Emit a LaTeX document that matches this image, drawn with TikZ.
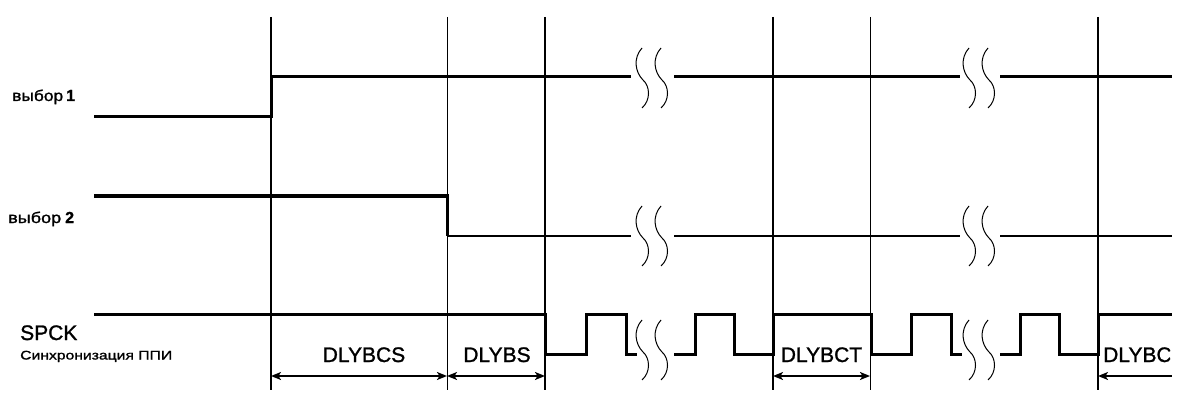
\documentclass[tikz,border=0pt]{standalone}
\usepackage{fontspec}
\setmainfont{Liberation Sans}[FakeBold=1.2]
\usepackage{graphicx}
\usetikzlibrary{arrows.meta}
\begin{document}
\begin{tikzpicture}[x=1pt,y=-1pt,
  sig/.style={line width=3pt,line join=miter},
  siglow/.style={line width=1.8pt},
  vthick/.style={line width=2.8pt},
  vmed/.style={line width=1.8pt},
  vthin/.style={line width=0.9pt},
  brkline/.style={line width=1pt},
  dimarrow/.style={line width=1.6pt,{Stealth[length=10pt,width=8pt,inset=2.5pt]}-{Stealth[length=10pt,width=8pt,inset=2.5pt]}},
  dimleft/.style={line width=1.6pt,{Stealth[length=10pt,width=8pt,inset=2.5pt]}-},
  lbl/.style={inner sep=0pt,font=\fontsize{21}{21}\selectfont},
  sublbl/.style={inner sep=0pt,font=\fontsize{15.5}{15.5}\selectfont},
  digit/.style={inner sep=0pt,font=\bfseries\fontsize{16}{16}\selectfont},
  brkpair/.pic={
    \draw[brkline] (-10.5,-30) .. controls (-19.5,-20) and (-17.5,-6) .. (-9.5,2) .. controls (-2.5,8) and (-1.5,22) .. (-10.5,30);
    \draw[brkline] (8.5,-30) .. controls (-0.5,-20) and (1.5,-6) .. (9.5,2) .. controls (16.5,8) and (17.5,22) .. (8.5,30);
  }]
\useasboundingbox (0,0) rectangle (1200,409);

% vertical reference lines
\foreach \n/\x in {v1/271,v2/447,v3/545,v4/773,v5/870,v6/1098}{
  \coordinate (\n t) at (\x,17);
  \coordinate (\n b) at (\x,390);
  \coordinate (\n a) at (\x,376);
}
\draw[vmed] (v1t) -- (v1b);
\draw[vthin] (v2t) -- (v2b);
\draw[vthick] (v3t) -- (v3b);
\draw[vthick] (v4t) -- (v4b);
\draw[vthin] (v5t) -- (v5b);
\draw[vthick] (v6t) -- (v6b);
\coordinate (endA) at (1172,376);

% signal: выбор 1
\draw[sig] (94,117) -- (271,117) -- (271,77) -- (631,77);
\draw[sig] (674,77) -- (960,77);
\draw[sig] (1000,77) -- (1172,77);
\pic (b1a) at (652.5,78) {brkpair};
\pic (b1b) at (979.5,78) {brkpair};

% signal: выбор 2
\draw[sig] (94,196) -- (447,196) -- (447,236);
\draw[siglow] (447,236) -- (631,236);
\draw[siglow] (674,236) -- (960,236);
\draw[siglow] (1000,236) -- (1172,236);
\pic (b2a) at (652.5,236) {brkpair};
\pic (b2b) at (979.5,236) {brkpair};

% signal: SPCK
\draw[sig] (94,314) -- (545,314) -- (545,354) -- (586,354) -- (586,314) -- (626,314) -- (626,354) -- (637,354);
\draw[sig] (674,354) -- (695,354) -- (695,314) -- (734,314) -- (734,354) -- (773,354) -- (773,314) -- (871,314) -- (871,354) -- (911,354) -- (911,314) -- (951,314) -- (951,354) -- (962,354);
\draw[sig] (1000,354) -- (1020,354) -- (1020,314) -- (1059,314) -- (1059,354) -- (1098,354) -- (1098,314) -- (1172,314);
\pic (b3a) at (652.5,350) {brkpair};
\pic (b3b) at (979.5,350) {brkpair};

% dimension arrows
\draw[dimarrow] (v1a) -- (v2a);
\draw[dimarrow] (v2a) -- (v3a);
\draw[dimarrow] (v4a) -- (v5a);
\draw[dimleft] (v6a) -- (endA);

% dimension labels
\node[lbl,anchor=base] (dlybcs) at (364,362) {DLYBCS};
\node[lbl,anchor=base] (dlybs) at (497,362) {DLYBS};
\node[lbl,anchor=base] (dlybct) at (821.5,362) {DLYBCT};
\begin{scope}
  \clip (1100,330) rectangle (1170,370);
  \node[lbl,anchor=base west] (dlybc) at (1103,362) {DLYBC};
\end{scope}

% signal names
\node[sublbl,anchor=base west] (sel1) at (12,101) {\resizebox{51pt}{\height}{выбор}};
\node[digit,anchor=base west] (sel1n) at (66,101) {1};
\node[sublbl,anchor=base west] (sel2) at (8,223) {\resizebox{53pt}{\height}{выбор}};
\node[digit,anchor=base west] (sel2n) at (65,223) {2};
\node[lbl,anchor=base west] (spck) at (20,340) {SPCK};
\node[inner sep=0pt,anchor=base west,font=\fontsize{12.5}{12.5}\selectfont] (spcksub) at (20,359.5) {\resizebox{152pt}{\height}{Синхронизация ППИ}};
\end{tikzpicture}
\end{document}
